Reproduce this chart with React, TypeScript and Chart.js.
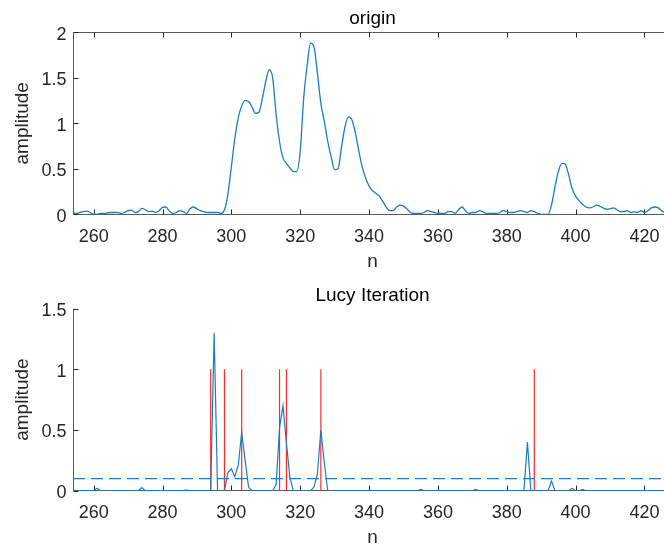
import React, { useEffect, useRef } from "react";
import { Chart, registerables } from "chart.js";

Chart.register(...registerables);

// ---------- data ----------
const N_START = 254;
const X_MIN = 254;
const X_MAX = 428;
const X_TICKS = [260, 280, 300, 320, 340, 360, 380, 400, 420];
const Y_TICKS_TOP = [0, 0.5, 1, 1.5, 2];
const Y_TICKS_BOTTOM = [0, 0.5, 1, 1.5];

// origin signal, n = 254 .. 428
const originValues = [
  0.02, 0.01, 0.02, 0.03, 0.035, 0.02, 0, 0, 0.01, 0.01,
  0.015, 0.02, 0.02, 0.02, 0.01, 0.02, 0.04, 0.045, 0.02, 0.03,
  0.065, 0.05, 0.03, 0.035, 0.02, 0.04, 0.075, 0.08, 0.035, 0.01,
  0.02, 0.04, 0.03, 0.01, 0.06, 0.08, 0.06, 0.04, 0.03, 0.02,
  0.02, 0.02, 0.02, 0.01, 0.05, 0.22, 0.52, 0.83, 1.06, 1.19,
  1.25, 1.24, 1.18, 1.11, 1.12, 1.27, 1.46, 1.59, 1.5, 1.1,
  0.8, 0.62, 0.56, 0.51, 0.47, 0.47, 0.69, 1.27, 1.63, 1.88,
  1.84, 1.55, 1.22, 1.02, 0.8, 0.63, 0.49, 0.5, 0.74, 0.96,
  1.07, 1.04, 0.9, 0.7, 0.52, 0.4, 0.31, 0.26, 0.23, 0.2,
  0.14, 0.08, 0.04, 0.04, 0.08, 0.1, 0.09, 0.06, 0.02, 0.01,
  0.01, 0.01, 0.02, 0.04, 0.03, 0.02, 0.01, 0.01, 0.01, 0.03,
  0.03, 0.01, 0.05, 0.08, 0.04, 0.01, 0.02, 0.02, 0.04, 0.03,
  0.01, 0.01, 0.01, 0.01, 0.02, 0.04, 0.03, 0.02, 0.02, 0.03,
  0.04, 0.03, 0.02, 0.04, 0.03, 0.01, 0, 0, 0, 0.1,
  0.3, 0.47, 0.56, 0.55, 0.43, 0.28, 0.2, 0.15, 0.11, 0.08,
  0.07, 0.08, 0.1, 0.09, 0.07, 0.055, 0.06, 0.07, 0.05, 0.03,
  0.03, 0.04, 0.02, 0.03, 0.02, 0.04, 0.02, 0.04, 0.07, 0.08,
  0.07, 0.04, 0.02, 0.02, 0.02,
];

// Lucy iteration result, n = 254 .. 428
const lucyValues = [
  0, 0, 0, 0, 0, 0, 0, 0.02, 0, 0,
  0, 0, 0, 0, 0, 0, 0, 0, 0, 0,
  0.025, 0, 0, 0, 0, 0, 0, 0, 0, 0,
  0, 0, 0, 0.005, 0, 0, 0, 0, 0, 0,
  0, 1.3, 0, 0, 0, 0.15, 0.18, 0.115, 0.21, 0.48,
  0.25, 0.03, 0, 0, 0, 0, 0, 0, 0, 0.05,
  0.52, 0.7, 0.39, 0.11, 0, 0, 0, 0, 0, 0,
  0.03, 0.14, 0.5, 0.23, 0, 0, 0, 0, 0, 0,
  0, 0, 0, 0, 0, 0, 0, 0, 0, 0,
  0, 0, 0, 0, 0, 0, 0, 0, 0, 0,
  0, 0.01, 0, 0, 0, 0, 0, 0, 0, 0,
  0, 0, 0, 0, 0, 0, 0, 0.01, 0, 0,
  0, 0, 0, 0, 0, 0, 0, 0, 0, 0,
  0, 0, 0.4, 0, 0, 0, 0, 0, 0, 0.08,
  0, 0, 0, 0, 0, 0.02, 0, 0, 0.01, 0,
  0, 0, 0, 0, 0, 0, 0, 0, 0, 0,
  0, 0, 0, 0, 0, 0, 0, 0, 0, 0,
  0, 0, 0, 0, 0,
];

// true spike positions (red) and their height
const spikePositions = [294, 298, 303, 314, 316, 326, 388];
const spikeHeight = 1;
const thresholdValue = 0.1;

// ---------- style ----------
const BLUE = "#1a7cc4";
const RED = "#FF2a2a";
const AXIS_COLOR = "#5a5a5a";
const TICK_TEXT = "#262626";
const FONT = '"Liberation Sans", Arial, Helvetica, sans-serif';
const W = 672;
const H = 548;

type AxCfg = {
  title: string;
  yTicks: number[];
  box: boolean;
};

function makeAxesPlugin(cfg: AxCfg) {
  return {
    id: "matlabAxes",
    beforeDatasetsDraw(chart: any) {
      const { ctx, chartArea: a, scales } = chart;
      const xs = scales.x;
      const ys = scales.y;
      const L = Math.floor(a.left) + 0.5;
      const B = Math.floor(a.bottom) + 0.5;
      const T = Math.floor(a.top) + 0.5;
      const R = Math.floor(a.right) - 0.5;
      const tl = 5;
      ctx.save();
      ctx.strokeStyle = AXIS_COLOR;
      ctx.lineWidth = 1;
      ctx.beginPath();
      ctx.moveTo(L, T);
      ctx.lineTo(L, B);
      ctx.lineTo(R, B);
      if (cfg.box) {
        ctx.moveTo(L, T);
        ctx.lineTo(R, T);
        ctx.lineTo(R, B);
      }
      ctx.stroke();
      ctx.strokeStyle = "#262626";
      ctx.beginPath();
      for (const t of X_TICKS) {
        const px = Math.round(xs.getPixelForValue(t)) + 0.5;
        ctx.moveTo(px, B);
        ctx.lineTo(px, B - tl);
        if (cfg.box) {
          ctx.moveTo(px, T);
          ctx.lineTo(px, T + tl);
        }
      }
      for (const t of cfg.yTicks) {
        const py = Math.round(ys.getPixelForValue(t)) + 0.5;
        ctx.moveTo(L, py);
        ctx.lineTo(L + tl, py);
        if (cfg.box) {
          ctx.moveTo(R, py);
          ctx.lineTo(R - tl, py);
        }
      }
      ctx.stroke();
      ctx.restore();
    },
    afterDraw(chart: any) {
      const { ctx, chartArea: a, scales } = chart;
      const xs = scales.x;
      const ys = scales.y;
      const cx = (a.left + a.right) / 2;
      ctx.save();
      ctx.fillStyle = TICK_TEXT;
      ctx.font = `18px ${FONT}`;
      ctx.textAlign = "center";
      ctx.textBaseline = "alphabetic";
      for (const t of X_TICKS) {
        ctx.fillText(String(t), xs.getPixelForValue(t), a.bottom + 27.4);
      }
      ctx.textAlign = "right";
      for (const t of cfg.yTicks) {
        ctx.fillText(String(t), a.left - 6.5, ys.getPixelForValue(t) + 7.5);
      }
      ctx.font = `19px ${FONT}`;
      ctx.textAlign = "center";
      ctx.fillText("n", cx, a.bottom + 52.5);
      ctx.fillStyle = "#000";
      ctx.fillText(cfg.title, cx, a.top - 8);
      ctx.fillStyle = TICK_TEXT;
      ctx.translate(23, (a.top + a.bottom) / 2);
      ctx.rotate(-Math.PI / 2);
      ctx.textBaseline = "middle";
      ctx.fillText("amplitude", 0, 0);
      ctx.restore();
    },
  };
}

function baseOptions(top: number, bottom: number, yMax: number) {
  return {
    responsive: false,
    maintainAspectRatio: false,
    animation: false as const,
    devicePixelRatio: 1,
    events: [] as any[],
    layout: { padding: { left: 73, top, right: 0, bottom: H - bottom } },
    scales: {
      x: { type: "linear" as const, min: X_MIN, max: X_MAX, display: false },
      y: { type: "linear" as const, min: 0, max: yMax, display: false },
    },
    plugins: {
      legend: { display: false },
      tooltip: { enabled: false },
      title: { display: false },
    },
    elements: { point: { radius: 0 }, line: { tension: 0 } },
  };
}

export default function App() {
  const topRef = useRef<HTMLCanvasElement | null>(null);
  const botRef = useRef<HTMLCanvasElement | null>(null);

  useEffect(() => {
    const originPts = originValues.map((v, i) => ({ x: N_START + i, y: v }));
    const lucyPts = lucyValues.map((v, i) => ({ x: N_START + i, y: v }));

    const top = new Chart(topRef.current!, {
      type: "line",
      data: {
        datasets: [
          { data: originPts, borderColor: BLUE, borderWidth: 1.3, pointRadius: 0, fill: false, cubicInterpolationMode: "monotone", tension: 0.3 },
        ],
      },
      options: baseOptions(32.3, 214.3, 2) as any,
      plugins: [makeAxesPlugin({ title: "origin", yTicks: Y_TICKS_TOP, box: true })],
    });

    const spikeSets = spikePositions.map((p) => ({
      data: [
        { x: p, y: 0 },
        { x: p, y: spikeHeight },
      ],
      borderColor: RED,
      borderWidth: 1.2,
      pointRadius: 0,
      fill: false,
      order: 3,
    }));

    const bot = new Chart(botRef.current!, {
      type: "line",
      data: {
        datasets: [
          ...spikeSets,
          { data: lucyPts, borderColor: BLUE, borderWidth: 1.2, pointRadius: 0, fill: false, order: 2 },
          {
            data: [
              { x: X_MIN, y: thresholdValue },
              { x: X_MAX, y: thresholdValue },
            ],
            borderColor: BLUE,
            borderWidth: 1.2,
            borderDash: [12, 6],
            pointRadius: 0,
            fill: false,
            order: 1,
          },
        ],
      },
      options: baseOptions(308.5, 490.7, 1.5) as any,
      plugins: [makeAxesPlugin({ title: "Lucy Iteration", yTicks: Y_TICKS_BOTTOM, box: false })],
    });

    return () => {
      top.destroy();
      bot.destroy();
    };
  }, []);

  const cs: React.CSSProperties = { position: "absolute", left: 0, top: 0, width: W, height: H };
  return (
    <div
      style={{
        position: "fixed",
        left: 0,
        top: 0,
        width: 664,
        height: 548,
        overflow: "hidden",
        background: "#fff",
      }}
    >
      <canvas ref={topRef} width={W} height={H} style={cs} />
      <canvas ref={botRef} width={W} height={H} style={cs} />
    </div>
  );
}
